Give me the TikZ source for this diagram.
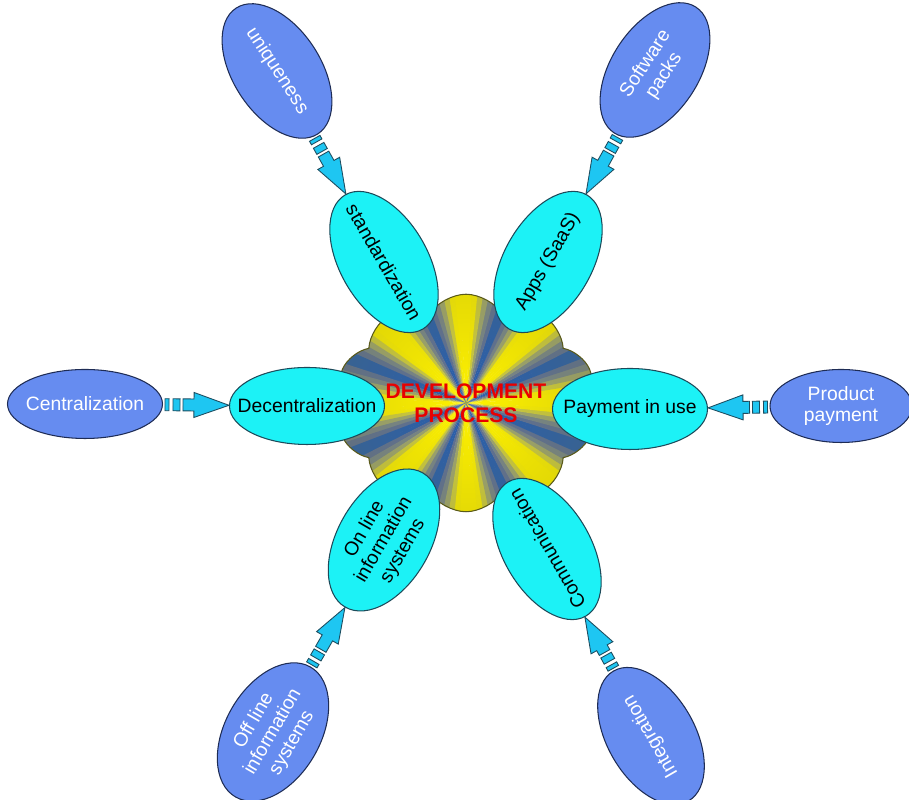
\documentclass[tikz,border=0pt]{standalone}
\usepackage{fontspec}
\setmainfont{Liberation Sans}
\usepackage{tikz}
\usetikzlibrary{shapes}
\usetikzlibrary{calc}
\usetikzlibrary{fadings}
\definecolor{innerfill}{HTML}{1CF2F6}
\definecolor{inneredge}{HTML}{1D4A5A}
\definecolor{outerfill}{HTML}{668CF0}
\definecolor{outeredge}{HTML}{1E2C55}
\definecolor{arrowfill}{HTML}{1EC6F2}
\definecolor{arrowedge}{HTML}{1D4D60}
\definecolor{rayblue}{HTML}{2A5FB0}
\definecolor{rimolive}{HTML}{707020}
\definecolor{titlered}{HTML}{E80000}
\tikzfading[name=rim_fade, inner color=transparent!100, outer color=transparent!72]
\tikzset{
  ellnode/.style = {ellipse, align=center, inner xsep=-0.35cm, inner ysep=-0.1cm,
    line width=0.6pt, font=\fontsize{11}{12.5}\selectfont},
  inner_node/.style = {ellnode, fill=innerfill, draw=inneredge, text=black,
    minimum width=3.1cm, minimum height=1.75cm},% ellipse cyan, autour du nuage
  outer_node/.style = {ellnode, fill=outerfill, draw=outeredge, text=white,
    minimum width=3.0cm, minimum height=1.75cm},% ellipse bleue, exterieur
  cloud_node/.style = {cloud, cloud puffs=10, cloud puff arc=115, draw=rimolive!80!black,
    line width=0.6pt, minimum width=5.2cm, minimum height=4.35cm,
    path picture={
      \foreach \a in {0,3,...,357}{
        \pgfmathtruncatemacro\mix{max(0,min(100,55+65*cos(8*\a)))}
        \fill[yellow!\mix!rayblue] (path picture bounding box.center)
          -- +(\a:3.8cm) -- +(\a+3.4:3.8cm) -- cycle;
      }
      \fill[rimolive, path fading=rim_fade] (path picture bounding box.center) circle (3.4cm);
    }},% nuage central
  link_arrow/.style = {fill=arrowfill, draw=arrowedge, line width=0.5pt, line join=miter}
}
% fleche bloc de #1 vers #2
\newcommand{\linkarrow}[2]{%
  \path (#1) -- (#2) coordinate[pos=0] (#1_tail) coordinate[pos=1] (#2_head);
  \draw[link_arrow] let \p1=(#1_tail), \p2=(#2_head),
      \n1={atan2(\y2-\y1,\x2-\x1)}, \n2={veclen(\x2-\x1,\y2-\y1)} in
    [shift={(\p1)}, rotate=\n1]
    (0.04cm,-0.12cm) rectangle (0.12cm,0.12cm)
    (0.20cm,-0.12cm) rectangle (0.34cm,0.12cm)
    (0.40cm,-0.12cm) -- ({\n2-0.7cm},-0.12cm) -- ({\n2-0.7cm},-0.25cm) -- (\n2,0cm)
    -- ({\n2-0.7cm},0.25cm) -- ({\n2-0.7cm},0.12cm) -- (0.40cm,0.12cm) -- cycle;
}

\begin{document}
\begin{tikzpicture}
  \useasboundingbox (0,0) rectangle (18.18,16);
  \node [cloud_node] (core) at (9.32,7.94) {};
  % ellipses interieures
  \node [inner_node, rotate=-60] (standard) at (7.68,10.76) {standardization};
  \node [inner_node, rotate=60] (apps) at (10.96,10.76) {Apps (SaaS)};
  \node [inner_node, minimum height=1.54cm] (decentr) at (6.14,7.88) {Decentralization};
  \node [inner_node, minimum height=1.62cm] (payuse) at (12.6,7.82) {Payment in use};
  \node [inner_node, rotate=60, minimum height=1.85cm] (online) at (7.68,5.2)
    {On line\\information\\systems};
  \node [inner_node, rotate=120] (commun) at (10.94,5.02) {Communication};
  % ellipses exterieures
  \node [outer_node, rotate=-57] (uniq) at (5.54,14.58) {uniqueness};
  \node [outer_node, rotate=57] (soft) at (13.1,14.6) {Software\\packs};
  \node [outer_node, minimum width=3.1cm, minimum height=1.38cm] (centr) at (1.7,7.92)
    {Centralization};
  \node [outer_node, minimum width=2.84cm, minimum height=1.46cm] (prodpay) at (16.82,7.88)
    {Product\\payment};
  \node [outer_node, rotate=60, minimum height=1.9cm] (offline) at (5.46,1.36)
    {Off line\\information\\systems};
  \node [outer_node, rotate=120] (integr) at (13.02,1.28) {Integration};
  % fleches
  \linkarrow{uniq}{standard}
  \linkarrow{soft}{apps}
  \linkarrow{centr}{decentr}
  \linkarrow{prodpay}{payuse}
  \linkarrow{offline}{online}
  \linkarrow{integr}{commun}
  \node [font=\fontsize{12}{13.5}\selectfont\bfseries, text=titlered, align=center]
    (title) at (core.center) {DEVELOPMENT\\PROCESS};
\end{tikzpicture}
\end{document}
